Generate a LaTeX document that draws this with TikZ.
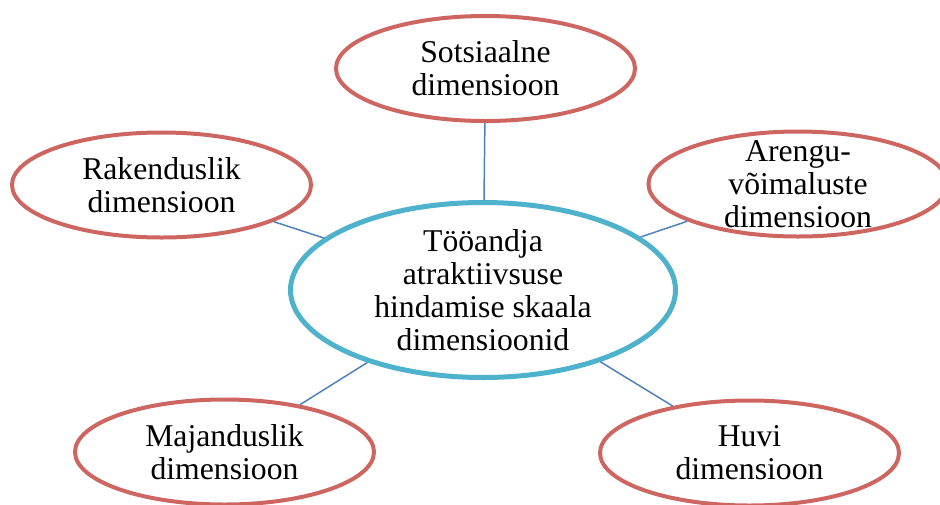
\documentclass[tikz,border=0pt]{standalone}
\usepackage{fontspec}
\setmainfont{Liberation Serif}
\usetikzlibrary{shapes.geometric}
\definecolor{dimred}{RGB}{205,102,97}
\definecolor{dimcyan}{RGB}{79,178,204}
\definecolor{linkblue}{RGB}{79,129,189}
\tikzset{
	dimension/.style={ellipse, draw=dimred, line width=4pt, fill=white,
		minimum width=299pt, minimum height=105pt, inner xsep=0pt, inner ysep=-40pt,
		align=center, font=\fontsize{31.7}{33}\selectfont},
	hub/.style={dimension, draw=dimcyan, line width=5pt,
		minimum width=385pt, minimum height=175pt, inner ysep=-60pt},
	link/.style={draw=linkblue, line width=1.5pt}
}

\begin{document}
\begin{tikzpicture}[x=1pt, y=-1pt]
			%%%%% START %%%%%
			
			\useasboundingbox (0, 0) rectangle (940, 504);
			
			\node[hub] (keskus) at (483, 290) {Tööandja\\atraktiivsuse\\hindamise skaala\\dimensioonid};
			
			\node[dimension] (sots) at (485.5, 68.5) {Sotsiaalne\\dimensioon};
			\node[dimension] (rak) at (161.5, 185) {Rakenduslik\\dimensioon};
			\node[dimension] (areng) at (798, 184) {Arengu-\\võimaluste\\dimensioon};
			\node[dimension] (maj) at (224.5, 452) {Majanduslik\\dimensioon};
			\node[dimension] (huvi) at (749.5, 453) {Huvi\\dimensioon};
			
			\draw[link] (sots) -- (keskus);
			\draw[link] (rak) -- (keskus);
			\draw[link] (areng) -- (keskus);
			\draw[link] (maj) -- (keskus);
			\draw[link] (huvi) -- (keskus);
			
			%%%%% END %%%%%
		\end{tikzpicture}
\end{document}
